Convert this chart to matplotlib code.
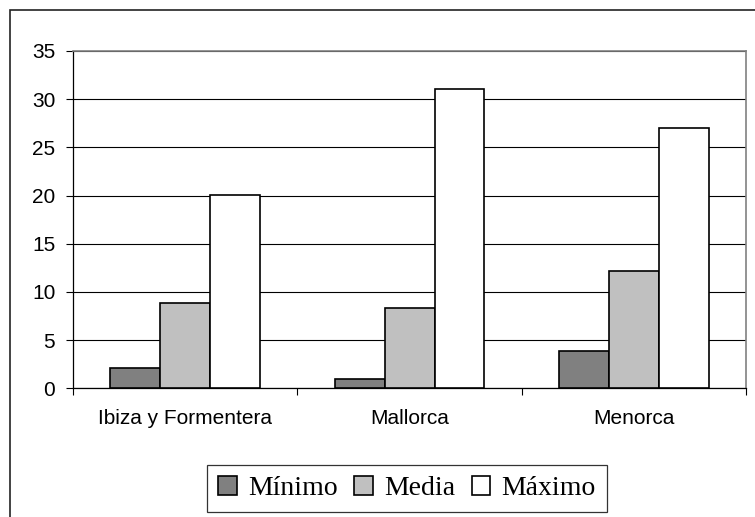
"""
Grouped bar chart: Mínimo / Media / Máximo per island group (Excel-style).
"""
import numpy as np
import matplotlib
matplotlib.use("Agg")
import matplotlib.pyplot as plt
from matplotlib.patches import Rectangle

categories = ["Ibiza y Formentera", "Mallorca", "Menorca"]
series_names = ["Mínimo", "Media", "Máximo"]
minimo = [2.1, 1.0, 3.9]
media = [8.9, 8.3, 12.2]
maximo = [20.1, 31.1, 27.0]
yticks = [0, 5, 10, 15, 20, 25, 30, 35]


def main():
    plt.rcParams.update({
        "font.family": "Liberation Sans",
        "font.size": 15,
    })

    fig = plt.figure(figsize=(7.55, 5.17), dpi=100)
    ax = fig.add_axes([0.0971, 0.2489, 0.8906, 0.6525])

    # outer chart border (runs off the right and bottom edges)
    fig.patches.append(Rectangle((10 / 755, -0.1), 1.2, (507 / 517) + 0.1,
                                 transform=fig.transFigure, fill=False,
                                 edgecolor="#222222", linewidth=1.2))

    x = np.arange(len(categories))
    w = 0.223
    colors = ["#808080", "#c0c0c0", "#ffffff"]
    for i, (vals, name) in enumerate(zip([minimo, media, maximo], series_names)):
        ax.bar(x + (i - 1) * w, vals, w, color=colors[i], edgecolor="black",
               linewidth=1.2, label=name, zorder=3)

    ax.set_xlim(-0.5, len(categories) - 0.5)
    ax.set_ylim(0, 35)
    ax.set_yticks(yticks)
    ax.yaxis.grid(True, color="black", linewidth=0.8, zorder=0)

    # category boundaries as major ticks, labels on minor ticks at centres
    ax.set_xticks(np.arange(len(categories) + 1) - 0.5)
    ax.set_xticklabels([])
    ax.set_xticks(x, minor=True)
    ax.set_xticklabels(categories, minor=True)
    ax.tick_params(axis="x", which="major", length=5, direction="out", width=0.8)
    ax.tick_params(axis="x", which="minor", length=0, pad=15)
    ax.tick_params(axis="y", length=5, direction="out", width=0.8, pad=8)

    for s in ("top", "right"):
        ax.spines[s].set_color("#808080")
        ax.spines[s].set_linewidth(1.2)
    for s in ("left", "bottom"):
        ax.spines[s].set_color("black")
        ax.spines[s].set_linewidth(0.9)

    leg = ax.legend(loc="upper center", bbox_to_anchor=(0.496, -0.226), ncol=3,
                    frameon=True, fancybox=False, edgecolor="black",
                    prop={"family": "Liberation Serif", "size": 20},
                    handlelength=0.67, handleheight=0.67, handletextpad=0.4,
                    columnspacing=0.6, borderpad=0.4, borderaxespad=0)
    leg.get_frame().set_linewidth(0.9)

    fig.savefig("out.png", dpi=100)
    plt.close(fig)


if __name__ == "__main__":
    main()
